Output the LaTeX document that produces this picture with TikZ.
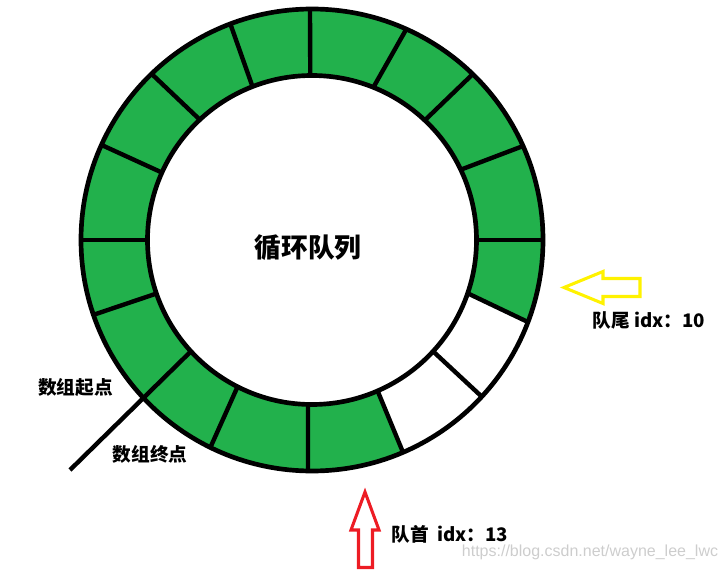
\documentclass[tikz,border=0pt]{standalone}
\usepackage{fontspec}
\newfontfamily\cjk{Noto Sans CJK SC}
\newfontfamily\wmfont{Liberation Sans}
\definecolor{pgreen}{RGB}{34,177,76}
\definecolor{pyellow}{RGB}{255,242,0}
\definecolor{pred}{RGB}{237,28,36}
\definecolor{wmgray}{RGB}{205,205,205}
\begin{document}
\begin{tikzpicture}[x=0.75pt,y=0.75pt,
  ringline/.style={line width=3.5pt,black},
  divider/.style={line width=3.3pt,black},
  hollowarrow/.style={line width=2.3pt,line join=miter},
  title/.style={font=\cjk\bfseries\fontsize{20}{24}\selectfont,inner sep=0pt},
  label/.style={font=\cjk\bfseries\fontsize{14}{17}\selectfont,inner sep=0pt},
  watermark/.style={font=\wmfont\fontsize{12}{14}\selectfont,text=wmgray,inner sep=0pt}]
\useasboundingbox (0,0) rectangle (728,569);
\coordinate (c) at (312,329);
\def\R{231}
\def\r{164.5}
% green annulus
\fill[pgreen,even odd rule] (c) circle[radius=\R] (c) circle[radius=\r];
% empty slots
\fill[white] ([shift={(c)}]293.5:\r) arc[start angle=293.5,end angle=341.1,radius=\r]
  -- ([shift={(c)}]339.2:\R) arc[start angle=339.2,end angle=293.2,radius=\R] -- cycle;
% outlines
\draw[ringline] (c) circle[radius=\R];
\draw[ringline] (c) circle[radius=\r];
% dividers (inner angle / outer angle)
\foreach \a/\b in {0/0,25.3/24.0,46.7/45.9,68.1/65.9,90.6/90.5,111.2/110.7,133/134,155.8/155.7,
  180/180,199/198.9,243.1/243.9,268.6/269,293.5/293.2,317.4/317.3,341.1/339.2}
  \draw[divider] ([shift={(c)}]\a:\r) -- ([shift={(c)}]\b:\R);
% extended divider (array start / end)
\coordinate (lineend) at (70,99);
\draw[divider] (lineend) -- ([shift={(c)}]222.6:\r);
% yellow arrow (tail)
\draw[hollowarrow,pyellow] (564,281.5) -- (603,297.5) -- (603,290.5) -- (640,290.5)
  -- (640,272.5) -- (603,272.5) -- (603,265.5) -- cycle;
% red arrow (head)
\draw[hollowarrow,pred] (365,77) -- (379,39) -- (372.5,39) -- (372.5,1.5) -- (358.5,1.5)
  -- (358.5,39) -- (351,39) -- cycle;
% texts
\node[title] (t) at (308,321.5) {循环队列};
\node[label] (tail) at (649,249) {队尾 idx：10};
\node[label] (head) at (450,35) {队首\hspace{0.45em}idx：13};
\node[label] (start) at (75.5,182) {数组起点};
\node[label] (end) at (150,115) {数组终点};
\node[watermark] (wm) at (590,17) {https://blog.csdn.net/wayne\_lee\_lwc};
\end{tikzpicture}
\end{document}
